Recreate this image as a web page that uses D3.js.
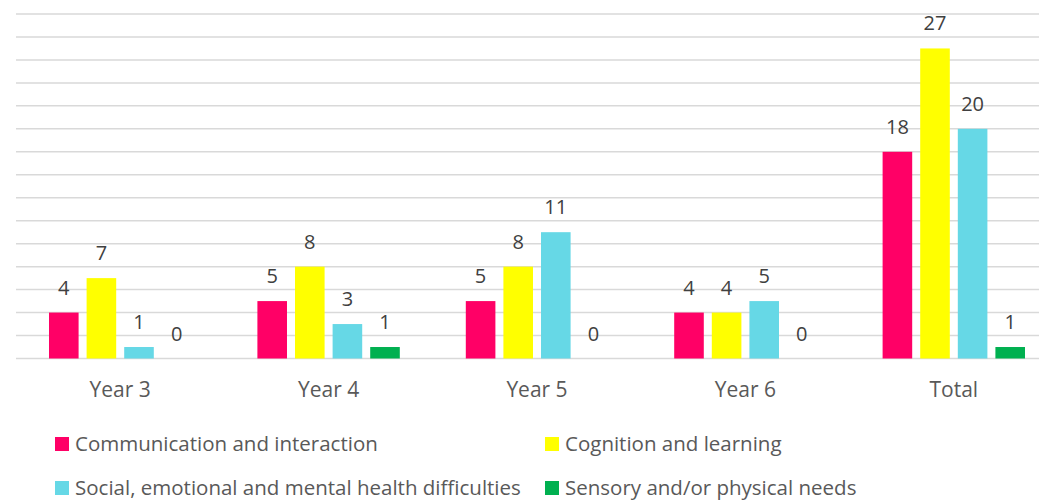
<!DOCTYPE html>
<meta charset="utf-8">
<head>
<script src="https://d3js.org/d3.v7.min.js"></script>
<style>
  body { margin: 0; background: #fff; }
  text { font-family: "Open Sans", Lato, sans-serif; }
</style>
</head>
<body>
<svg id="chart" width="1039" height="501"></svg>
<script>

// data
const categories = ["Year 3", "Year 4", "Year 5", "Year 6", "Total"];
const seriesNames = ["Communication and interaction", "Cognition and learning",
                     "Social, emotional and mental health difficulties", "Sensory and/or physical needs"];
const seriesColors = ["#FF0066", "#FFFF00", "#66D8E6", "#00B050"];
const communication = [4, 5, 5, 4, 18];
const cognition = [7, 8, 8, 4, 27];
const social = [1, 3, 11, 5, 20];
const sensory = [0, 1, 0, 0, 1];
const yTicks = d3.range(0, 31, 2);

const values = [communication, cognition, social, sensory];

var svg = d3.select("#chart"),
    width = +svg.attr("width"),
    height = +svg.attr("height");

// plot area (right side runs past the picture edge, like the original crop)
var plotLeft = 16, plotRight = 1058, plotTop = 14, plotBottom = 358.5;

var x0 = d3.scaleBand().domain(categories).range([plotLeft, plotRight]);
var x1 = d3.scaleBand().domain(d3.range(4))
    .range([33, x0.bandwidth() - 33])
    .paddingInner(0.213);
var y = d3.scaleLinear().domain([0, 30]).range([plotBottom, plotTop]);

// gridlines
svg.append("g")
  .selectAll("line")
  .data(yTicks)
  .enter().append("line")
    .attr("x1", plotLeft).attr("x2", plotRight)
    .attr("y1", d => y(d)).attr("y2", d => y(d))
    .attr("stroke", "#D9D9D9")
    .attr("stroke-width", 1.5);

// bars
var groups = svg.append("g")
  .selectAll("g")
  .data(categories)
  .enter().append("g")
    .attr("transform", d => "translate(" + x0(d) + ",0)");

groups.selectAll("rect")
  .data((c, ci) => values.map((s, si) => ({s: si, v: s[ci]})))
  .enter().append("rect")
    .attr("x", d => x1(d.s))
    .attr("width", x1.bandwidth())
    .attr("y", d => y(d.v))
    .attr("height", d => y(0) - y(d.v))
    .attr("fill", d => seriesColors[d.s]);

groups.selectAll("text")
  .data((c, ci) => values.map((s, si) => ({s: si, v: s[ci]})))
  .enter().append("text")
    .attr("x", d => x1(d.s) + x1.bandwidth() / 2)
    .attr("y", d => y(d.v) - 18)
    .attr("text-anchor", "middle")
    .attr("font-size", 20)
    .attr("fill", "#404040")
    .text(d => d.v);

// category axis labels
svg.append("g")
  .selectAll("text")
  .data(categories)
  .enter().append("text")
    .attr("x", d => x0(d) + x0.bandwidth() / 2)
    .attr("y", 397)
    .attr("text-anchor", "middle")
    .attr("font-size", 21)
    .attr("fill", "#595959")
    .text(d => d);

// legend, two rows of two
var legendPos = [[55, 437], [545, 437], [55, 481], [545, 481]];
var legend = svg.append("g")
  .selectAll("g")
  .data(seriesNames)
  .enter().append("g")
    .attr("transform", (d, i) => "translate(" + legendPos[i][0] + "," + legendPos[i][1] + ")");

legend.append("rect")
    .attr("width", 14).attr("height", 14)
    .attr("fill", (d, i) => seriesColors[i]);

legend.append("text")
    .attr("x", 20)
    .attr("y", 14)
    .attr("font-size", 20.5)
    .attr("fill", "#595959")
    .text(d => d);

</script>
</body>
